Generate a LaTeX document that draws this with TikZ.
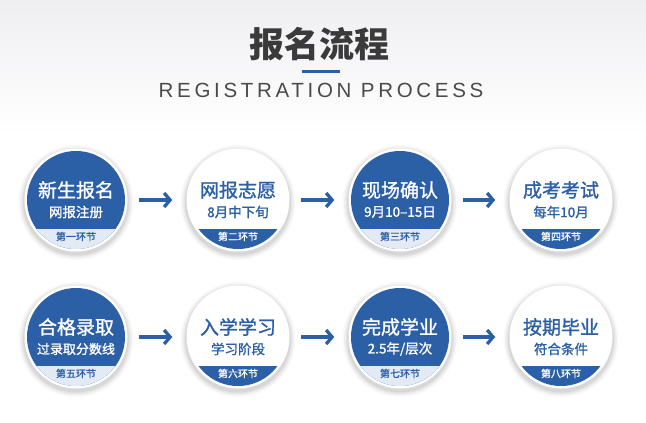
\documentclass[tikz,border=0pt]{standalone}
\usepackage{fontspec}
\setmainfont{Liberation Sans}
\newfontfamily\cjk{Noto Sans CJK SC}
\newfontfamily\cjkmed[FakeBold=1.2]{Noto Sans CJK SC}
\newfontfamily\spaced[LetterSpace=18]{Liberation Sans}
\usetikzlibrary{arrows.meta}
\definecolor{bblue}{HTML}{2B5FA6}
\definecolor{lband}{HTML}{E3EAF4}
\definecolor{tgray}{HTML}{3A3A3A}
\definecolor{sgray}{HTML}{4A4A4A}
\definecolor{bgtop}{HTML}{EFEFF2}
\tikzset{
  stagenode/.style={circle, minimum size=103pt, inner sep=0pt},
  maintext/.style={font=\cjkmed\fontsize{19}{19}\selectfont, inner sep=0pt},
  subtext/.style={font=\cjkmed\fontsize{13.5}{13.5}\selectfont, inner sep=0pt},
  bandtext/.style={font=\cjkmed\fontsize{10}{10}\selectfont, inner sep=0pt},
  flow/.style={draw=bblue, line width=3.3pt, shorten <=11.5pt, shorten >=14pt,
    -{Straight Barb[length=6pt, width=14pt]}},
}
% #1 name, #2 position, #3 disk, #4 band, #5 text, #6 band text, #7 main, #8 sub, #9 band label
\newcommand\stage[9]{%
  \node[stagenode] (#1) at #2 {};
  \foreach \k/\o in {6/0.025,4.5/0.035,3/0.045,1.5/0.06}{%
    \fill[black, opacity=\o] ([yshift=-2.5pt]#1.center) circle[radius=51.5pt+\k pt];}
  \fill[white] (#1.center) circle[radius=51.5pt];
  \fill[#3] (#1.center) circle[radius=49pt];
  \begin{scope}
    \clip (#1.center) circle[radius=49pt];
    \fill[#4] ([shift={(-55pt,-29pt)}]#1.center) rectangle ([shift={(55pt,-60pt)}]#1.center);
  \end{scope}
  \node[maintext, text=#5] (#1m) at ([yshift=10pt]#1.center) {#7};
  \node[subtext, text=#5] (#1s) at ([yshift=-12pt]#1.center) {#8};
  \node[bandtext, text=#6] (#1b) at ([yshift=-36.5pt]#1.center) {#9};
}
\begin{document}
\begin{tikzpicture}[x=1pt, y=-1pt]
\useasboundingbox (0,0) rectangle (646,423);
\fill[white] (0,0) rectangle (646,423);
\shade[top color=bgtop, bottom color=white] (0,0) rectangle (646,135);

\node[font=\cjk\bfseries\fontsize{35}{35}\selectfont, text=tgray, inner sep=0pt] (title) at (319,44) {报名流程};
\node[fill=bblue, minimum width=38pt, minimum height=3.5pt, inner sep=0pt] (bar) at (321,71.3) {};
\node[font=\spaced\fontsize{20.5}{20.5}\selectfont, text=sgray, inner sep=0pt] (en) at (321,90) {REGISTRATION PROCESS};

\stage{s1}{(76,200)}{bblue}{lband}{white}{bblue}{新生报名}{网报注册}{第一环节}
\stage{s2}{(238,200)}{white}{bblue}{bblue}{white}{网报志愿}{8月中下旬}{第二环节}
\stage{s3}{(400,200)}{bblue}{lband}{white}{bblue}{现场确认}{9月10–15日}{第三环节}
\stage{s4}{(561,200)}{white}{bblue}{bblue}{white}{成考考试}{每年10月}{第四环节}

\stage{s5}{(76,337)}{bblue}{lband}{white}{bblue}{合格录取}{\fontsize{13}{13}\selectfont 过录取分数线}{第五环节}
\stage{s6}{(238,337)}{white}{bblue}{bblue}{white}{入学学习}{学习阶段}{第六环节}
\stage{s7}{(400,337)}{bblue}{lband}{white}{bblue}{完成学业}{2.5年/层次}{第七环节}
\stage{s8}{(561,337)}{white}{bblue}{bblue}{white}{按期毕业}{符合条件}{第八环节}

\draw[flow] (s1) -- (s2);
\draw[flow] (s2) -- (s3);
\draw[flow] (s3) -- (s4);
\draw[flow] (s5) -- (s6);
\draw[flow] (s6) -- (s7);
\draw[flow] (s7) -- (s8);
\end{tikzpicture}
\end{document}
